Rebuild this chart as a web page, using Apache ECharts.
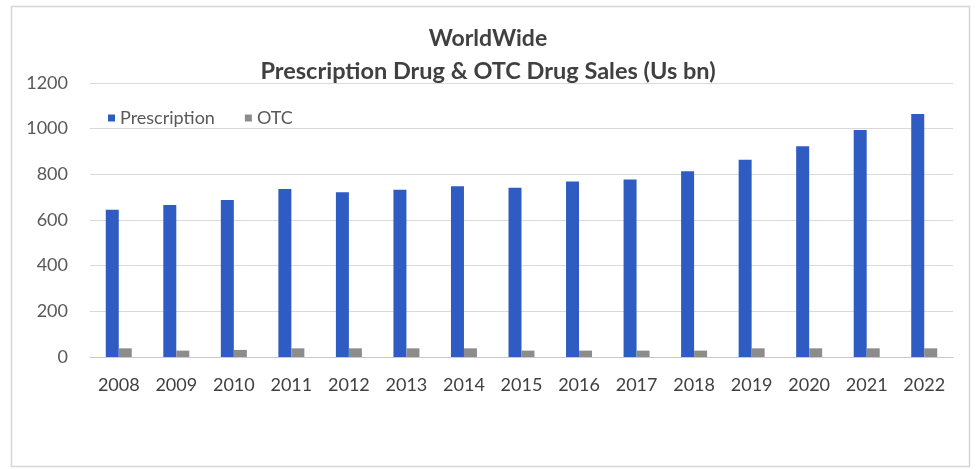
<!DOCTYPE html>
<html>
<head>
<meta charset="utf-8">
<script src="https://cdn.jsdelivr.net/npm/echarts@6/dist/echarts.min.js"></script>
<style>html,body{margin:0;padding:0;background:#fff}#c{width:976px;height:470px}</style>
</head>
<body>
<div id="c"></div>
<script>
const years = ['2008','2009','2010','2011','2012','2013','2014','2015','2016','2017','2018','2019','2020','2021','2022'];
const prescription = [645, 666, 688, 736, 722, 732, 748, 741, 769, 777, 813, 864, 923, 994, 1064];
const otc = [38, 28, 31, 38, 38, 38, 38, 28, 28, 28, 28, 38, 38, 38, 38];
const yTicks = { min: 0, max: 1200, interval: 200 };

const chart = echarts.init(document.getElementById('c'));
const font = 'Lato, "Open Sans", sans-serif';
chart.setOption({
  backgroundColor: '#ffffff',
  animation: false,
  graphic: [{
    type: 'rect', shape: { x: 11.5, y: 6.5, width: 958, height: 460 },
    style: { fill: 'none', stroke: '#d6d6d6', lineWidth: 1.5 }, silent: true
  }],
  title: [
    { text: 'WorldWide', left: 'center', top: 27, padding: 0,
      textStyle: { fontFamily: font, fontSize: 23, fontWeight: 'bold', color: '#404040' } },
    { text: 'Prescription Drug & OTC Drug Sales (Us bn)', left: 'center', top: 59, padding: 0,
      textStyle: { fontFamily: font, fontSize: 23.5, fontWeight: 'bold', color: '#404040' } }
  ],
  legend: {
    left: 108, top: 109, itemWidth: 7, itemHeight: 7, itemGap: 30, padding: 0,
    icon: 'rect',
    textStyle: { fontFamily: font, fontSize: 18, color: '#595959' },
    data: ['Prescription', 'OTC']
  },
  grid: { left: 90, right: 23, top: 83, bottom: 113 },
  xAxis: {
    type: 'category', data: years,
    axisTick: { show: false },
    axisLine: { lineStyle: { color: '#c8c8c8', width: 1 } },
    axisLabel: { fontFamily: font, fontSize: 18, color: '#404040', margin: 19 }
  },
  yAxis: {
    type: 'value', min: yTicks.min, max: yTicks.max, interval: yTicks.interval,
    axisLine: { show: false }, axisTick: { show: false },
    splitLine: { lineStyle: { color: '#d9d9d9', width: 1 } },
    axisLabel: { fontFamily: font, fontSize: 18, color: '#595959', margin: 22,
      formatter: v => String(v) }
  },
  series: [
    { name: 'Prescription', type: 'bar', data: prescription, barWidth: 13, barGap: '0%',
      itemStyle: { color: '#2f5cc2' } },
    { name: 'OTC', type: 'bar', data: otc, barWidth: 13,
      itemStyle: { color: '#8c8c8c' } }
  ]
});
</script>
</body>
</html>
